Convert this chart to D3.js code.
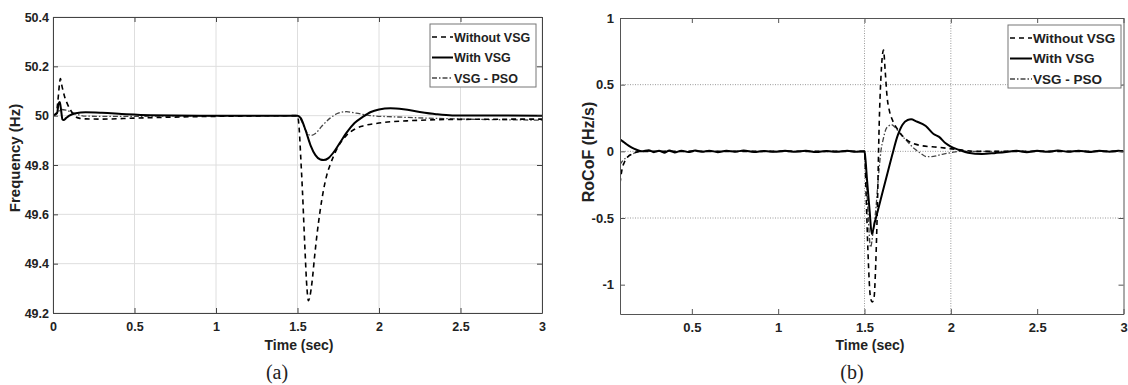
<!DOCTYPE html>
<html>
<head>
<meta charset="utf-8">
<script src="https://cdn.jsdelivr.net/npm/d3@7"></script>
<style>
  body { margin: 0; background: #fff; }
  svg text { font-family: "Liberation Sans", Arial, sans-serif; font-weight: bold; fill: #222; }
</style>
</head>
<body>
<svg id="chart" width="1128" height="385"></svg>
<script>
// series names (legend order)
const seriesNames = ['Without VSG', 'With VSG', 'VSG - PSO'];

// panel (a) ticks
const freqTicks = [49.2, 49.4, 49.6, 49.8, 50, 50.2, 50.4];
const timeTicksA = [0, 0.5, 1, 1.5, 2, 2.5, 3];
// panel (b) ticks
const rocofTicks = [-1, -0.5, 0, 0.5, 1];
const timeTicksB = [0.5, 1, 1.5, 2, 2.5, 3];
const rocofGridY = [-0.5, 0, 0.5];
const rocofGridX = [1.5, 2];

// frequency (Hz) vs time (s)
const freqWithout = [[0,50],[0.02,50.01],[0.03,50.06],[0.04,50.13],[0.045,50.15],[0.055,50.12],[0.07,50.08],
  [0.09,50.045],[0.11,50.02],[0.13,50.0],[0.16,49.99],[0.2,49.987],[0.3,49.986],[0.5,49.99],[0.8,49.995],
  [1.1,49.998],[1.5,50],[1.51,49.95],[1.52,49.83],[1.53,49.7],[1.545,49.47],[1.558,49.3],[1.567,49.25],
  [1.577,49.27],[1.59,49.33],[1.605,49.43],[1.62,49.52],[1.64,49.62],[1.66,49.7],[1.68,49.76],[1.7,49.8],
  [1.75,49.875],[1.8,49.92],[1.85,49.945],[1.9,49.958],[2.0,49.97],[2.2,49.98],[2.5,49.985],[3,49.986]];
const freqWith = [[0,50],[0.025,50.01],[0.035,50.05],[0.042,50.055],[0.05,50.02],[0.058,49.985],[0.065,49.982],
  [0.08,49.99],[0.1,50.0],[0.14,50.01],[0.2,50.014],[0.3,50.012],[0.45,50.006],[0.6,50.002],[0.9,50],[1.5,50],
  [1.52,49.99],[1.55,49.94],[1.58,49.88],[1.61,49.84],[1.64,49.822],[1.66,49.82],[1.69,49.828],[1.72,49.85],
  [1.76,49.89],[1.8,49.93],[1.85,49.97],[1.9,49.995],[1.95,50.015],[2.0,50.025],[2.07,50.03],[2.15,50.026],
  [2.25,50.015],[2.35,50.006],[2.45,50.001],[3,50]];
const freqPso = [[0,50],[0.03,50.015],[0.05,50.025],[0.08,50.022],[0.11,50.015],[0.15,50.005],[0.2,49.998],
  [0.4,49.997],[0.8,49.999],[1.5,50],[1.52,49.985],[1.54,49.955],[1.56,49.93],[1.58,49.92],[1.61,49.928],
  [1.65,49.958],[1.7,49.99],[1.75,50.01],[1.8,50.016],[1.86,50.01],[1.95,50.0],[2.1,49.995],[2.3,49.99],
  [2.6,49.985],[3,49.982]];

// RoCoF (Hz/s) vs time (s)
const rocofWithout = [[0.084,-0.24],[0.095,-0.14],[0.11,-0.08],[0.13,-0.04],[0.155,-0.02],[0.2,0],[1.5,0],
  [1.51,-0.35],[1.52,-0.75],[1.535,-1.1],[1.545,-1.13],[1.555,-1.1],[1.565,-0.85],[1.575,-0.4],[1.585,0.2],
  [1.595,0.55],[1.61,0.76],[1.62,0.6],[1.63,0.42],[1.645,0.3],[1.66,0.24],[1.7,0.15],[1.74,0.09],[1.82,0.045],
  [1.93,0.03],[2.03,0.015],[2.15,0],[3,0]];
const rocofWith = [[0.084,0.09],[0.1,0.075],[0.12,0.055],[0.15,0.03],[0.18,0.012],[0.21,0.0],[0.25,0.008],
  [0.28,-0.006],[0.31,0.005],[0.34,-0.01],[0.37,0.006],[0.4,-0.008],[0.44,0.004],[0.48,-0.005],[0.52,0.007],
  [0.56,-0.004],[0.6,0.005],[0.65,-0.006],[0.7,0.004],[0.75,-0.003],[0.8,0.006],[0.86,-0.005],[0.92,0.003],
  [0.98,-0.004],[1.04,0.005],[1.1,-0.003],[1.16,0.004],[1.22,-0.005],[1.28,0.003],[1.34,-0.004],[1.4,0.005],
  [1.45,-0.003],[1.5,0],[1.505,-0.05],[1.515,-0.22],[1.53,-0.45],[1.542,-0.62],[1.56,-0.53],[1.58,-0.43],
  [1.6,-0.33],[1.63,-0.18],[1.66,-0.03],[1.69,0.11],[1.72,0.2],[1.75,0.235],[1.77,0.24],[1.8,0.225],
  [1.855,0.19],[1.9,0.13],[1.93,0.11],[1.97,0.06],[2.0,0.035],[2.05,0.01],[2.1,-0.01],[2.18,-0.02],
  [2.26,-0.012],[2.32,-0.005],[2.38,0.004],[2.44,-0.006],[2.5,0.005],[2.56,-0.004],[2.62,0.006],[2.68,-0.003],
  [2.74,0.005],[2.8,-0.005],[2.86,0.004],[2.92,-0.003],[2.97,0.004],[3,0]];
const rocofPso = [[0.084,-0.1],[0.1,-0.07],[0.13,-0.04],[0.17,-0.012],[0.2,0],[1.5,0],[1.51,-0.2],[1.522,-0.5],
  [1.535,-0.72],[1.55,-0.6],[1.566,-0.43],[1.58,-0.2],[1.595,0.0],[1.61,0.1],[1.624,0.165],[1.64,0.19],
  [1.655,0.2],[1.68,0.175],[1.71,0.125],[1.74,0.085],[1.78,0.03],[1.82,-0.01],[1.86,-0.04],[1.9,-0.038],
  [1.95,-0.022],[2.0,-0.01],[2.05,0],[3,0]];

const styles = [
  { stroke: '#000', width: 1.6, dash: '5,4' },
  { stroke: '#000', width: 2, dash: null },
  { stroke: '#444', width: 1.3, dash: '5,2,1.5,2' }
];

const svg = d3.select('#chart');
const plainNum = d => String(d);   // keep ASCII hyphen for negatives

function drawPanel(cfg) {
  const x = d3.scaleLinear().domain(cfg.xDomain).range([cfg.left, cfg.right]);
  const y = d3.scaleLinear().domain(cfg.yDomain).range([cfg.bottom, cfg.top]);
  const g = svg.append('g');
  const clipId = 'clip-' + cfg.id;

  g.append('clipPath').attr('id', clipId)
    .append('rect')
    .attr('x', cfg.left).attr('y', cfg.top)
    .attr('width', cfg.right - cfg.left).attr('height', cfg.bottom - cfg.top);

  // grid
  g.append('g').selectAll('line').data(cfg.gridX).enter().append('line')
    .attr('x1', d => x(d)).attr('x2', d => x(d))
    .attr('y1', cfg.top).attr('y2', cfg.bottom)
    .attr('stroke', cfg.gridColor).attr('stroke-dasharray', cfg.gridDash);
  g.append('g').selectAll('line').data(cfg.gridY).enter().append('line')
    .attr('x1', cfg.left).attr('x2', cfg.right)
    .attr('y1', d => y(d)).attr('y2', d => y(d))
    .attr('stroke', cfg.gridColor).attr('stroke-dasharray', cfg.gridDash);

  // lines
  const line = d3.line().x(d => x(d[0])).y(d => y(d[1])).curve(d3.curveMonotoneX);
  const series = cfg.series.map((s, i) => ({ data: s, style: styles[i] }));
  g.append('g').attr('clip-path', 'url(#' + clipId + ')')
    .selectAll('path').data(series.slice().reverse()).enter().append('path')
    .attr('d', d => line(d.data))
    .attr('fill', 'none')
    .attr('stroke', d => d.style.stroke)
    .attr('stroke-width', d => d.style.width)
    .attr('stroke-dasharray', d => d.style.dash)
    .attr('stroke-linejoin', 'round');

  // axes, MATLAB style: ticks inward on all four sides
  const bottomAxis = g.append('g').attr('transform', 'translate(0,' + cfg.bottom + ')')
    .call(d3.axisBottom(x).tickValues(cfg.xTicks).tickSizeInner(-5).tickSizeOuter(0)
      .tickPadding(cfg.xPad).tickFormat(plainNum));
  const leftAxis = g.append('g').attr('transform', 'translate(' + cfg.left + ',0)')
    .call(d3.axisLeft(y).tickValues(cfg.yTicks).tickSizeInner(-5).tickSizeOuter(0)
      .tickPadding(cfg.yPad).tickFormat(plainNum));
  const topAxis = g.append('g').attr('transform', 'translate(0,' + cfg.top + ')')
    .call(d3.axisTop(x).tickValues(cfg.xTicks).tickSizeInner(-5).tickSizeOuter(0).tickFormat(''));
  const rightAxis = g.append('g').attr('transform', 'translate(' + cfg.right + ',0)')
    .call(d3.axisRight(y).tickValues(cfg.yTicks).tickSizeInner(-5).tickSizeOuter(0).tickFormat(''));

  [bottomAxis, leftAxis, topAxis, rightAxis].forEach(a => {
    a.select('.domain').attr('stroke', cfg.axisColor);
    a.selectAll('.tick line').attr('stroke', cfg.axisColor);
    a.selectAll('text').attr('font-size', cfg.tickFont);
  });

  // axis titles
  g.append('text')
    .attr('transform', 'translate(' + cfg.ylabelX + ',' + cfg.ylabelY + ') rotate(-90)')
    .attr('text-anchor', 'middle').attr('font-size', cfg.ylabelFont)
    .text(cfg.ylabel);
  g.append('text')
    .attr('x', cfg.xlabelX).attr('y', 350)
    .attr('text-anchor', 'middle').attr('font-size', 14)
    .text('Time (sec)');
  g.append('text')
    .attr('x', cfg.captionX).attr('y', 379)
    .attr('text-anchor', 'middle')
    .style('font-family', '"Liberation Serif", "Times New Roman", serif')
    .style('font-weight', 'normal')
    .attr('font-size', 20)
    .text(cfg.caption);

  // legend
  const lg = g.append('g');
  const L = cfg.legend;
  lg.append('rect')
    .attr('x', L.x).attr('y', L.y).attr('width', L.w).attr('height', L.h)
    .attr('fill', '#fff').attr('stroke', '#777').attr('stroke-width', 1);
  seriesNames.forEach((name, i) => {
    const cy = L.y + 13 + i * 20.5;
    lg.append('line')
      .attr('x1', L.x + 2).attr('x2', L.x + L.sample)
      .attr('y1', cy).attr('y2', cy)
      .attr('stroke', styles[i].stroke).attr('stroke-width', styles[i].width)
      .attr('stroke-dasharray', styles[i].dash);
    lg.append('text')
      .attr('x', L.x + L.sample + 1).attr('y', cy).attr('dy', '0.36em')
      .attr('font-size', L.font)
      .text(name);
  });
}

drawPanel({
  id: 'a',
  left: 53, right: 542, top: 17, bottom: 313,
  xDomain: [0, 3], yDomain: [49.2, 50.4],
  xTicks: timeTicksA, yTicks: freqTicks,
  gridX: timeTicksA, gridY: freqTicks,
  gridColor: '#dedede', gridDash: null,
  axisColor: '#444',
  xPad: 9, yPad: 4, tickFont: 12.5,
  series: [freqWithout, freqWith, freqPso],
  ylabel: 'Frequency (Hz)', ylabelX: 20, ylabelY: 158, ylabelFont: 15,
  xlabelX: 299, caption: '(a)', captionX: 277,
  legend: { x: 430, y: 24, w: 106, h: 63, sample: 23, font: 12.5 }
});

drawPanel({
  id: 'b',
  left: 620, right: 1123.5, top: 18, bottom: 314,
  xDomain: [0.084, 3], yDomain: [-1.22, 1],
  xTicks: timeTicksB, yTicks: rocofTicks,
  gridX: rocofGridX, gridY: rocofGridY,
  gridColor: '#999', gridDash: '1,1.5',
  axisColor: '#555',
  xPad: 9, yPad: 6, tickFont: 13,
  series: [rocofWithout, rocofWith, rocofPso],
  ylabel: 'RoCoF (Hz/s)', ylabelX: 594, ylabelY: 152, ylabelFont: 16,
  xlabelX: 870, caption: '(b)', captionX: 852,
  legend: { x: 1008, y: 25, w: 113, h: 63, sample: 24, font: 13.5 }
});
</script>
</body>
</html>
